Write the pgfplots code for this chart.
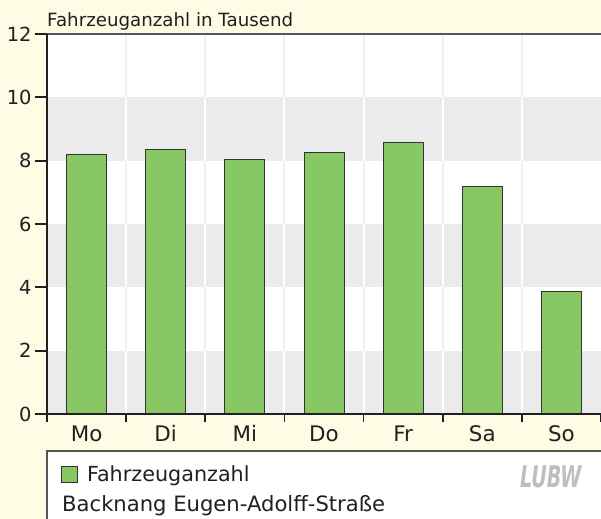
\documentclass[border=0pt]{standalone}
\usepackage{fontspec}
\setmainfont{DejaVu Sans}
\usepackage{pgfplots}
\pgfplotsset{compat=1.18}
\definecolor{cream}{HTML}{FFFCE5}
\definecolor{band}{HTML}{EBEBED}
\definecolor{vline}{HTML}{F0F0F0}
\definecolor{barfill}{HTML}{87C764}
\definecolor{edge}{HTML}{333333}
\definecolor{txt}{HTML}{231F20}
\definecolor{topcol}{HTML}{555555}
\definecolor{logo}{HTML}{BCBEC0}
\begin{document}
\begin{tikzpicture}
\fill[cream] (0,0) rectangle (601bp,519bp);
% legend box
\draw[fill=white, draw=topcol, line width=1.5bp] (47bp,68bp) rectangle (640bp,-20bp);
\node[anchor=base west, font=\fontsize{18.3}{19}\selectfont, text=txt, inner sep=0pt] at (47bp,492bp) {Fahrzeuganzahl in Tausend};
\node[anchor=base west, font=\fontsize{21.2}{22}\selectfont, text=txt, inner sep=0pt] at (62bp,7.5bp) {Backnang Eugen-Adolff-Straße};
\node[anchor=south west, font=\fontsize{30}{30}\selectfont\bfseries\itshape, text=logo, inner sep=0pt, xscale=0.64] at (520bp,31bp) {LUBW};
\begin{axis}[
  axis on top=true,
  axis background/.style={fill=white},
  at={(47bp,105bp)}, anchor=south west,
  scale only axis, width=554bp, height=380bp,
  xmin=-0.5, xmax=6.5, ymin=0, ymax=12,
  axis x line*=bottom, axis y line*=left,
  axis line style={-},
  x axis line style={line width=2bp, draw=txt},
  y axis line style={line width=2.7bp, draw=txt},
  xtick={0,...,6}, xticklabels={Mo,Di,Mi,Do,Fr,Sa,So},
  x tick style={draw=none},
  extra x ticks={-0.5,0.5,1.5,2.5,3.5,4.5,5.5,6.5},
  extra x tick labels={},
  extra x tick style={x tick style={draw=txt, line width=1.6bp}, major tick length=8bp, tick align=outside},
  ytick={0,2,...,12},
  y tick style={draw=txt, line width=2bp},
  tick align=outside, major tick length=12bp,
  /pgf/number format/assume math mode=true,
  y tick label style={font=\fontsize{19.5}{20}\selectfont, text=txt},
  x tick label style={font=\fontsize{21.5}{22}\selectfont, text=txt, yshift=4bp},
  legend style={draw=none, fill=none, inner sep=0pt, outer sep=0pt,
    at={(axis description cs:0.0253,-0.159)}, anchor=west,
    font=\fontsize{20.8}{21}\selectfont, text=txt,
    legend cell align=left,
    /tikz/every odd column/.append style={column sep=7bp}},
  legend image code/.code={\draw[line width=1bp, draw=edge, fill=barfill] (0bp,-8bp) rectangle (16bp,8bp);},
]
\fill[band] (axis cs:-0.5,0) rectangle (axis cs:6.5,2);
\fill[band] (axis cs:-0.5,4) rectangle (axis cs:6.5,6);
\fill[band] (axis cs:-0.5,8) rectangle (axis cs:6.5,10);
\pgfplotsinvokeforeach{0.5,1.5,2.5,3.5,4.5,5.5}{
  \draw[white, line width=2bp] (axis cs:#1,0)--(axis cs:#1,2) (axis cs:#1,4)--(axis cs:#1,6) (axis cs:#1,8)--(axis cs:#1,10);
  \draw[vline, line width=2bp] (axis cs:#1,2)--(axis cs:#1,4) (axis cs:#1,6)--(axis cs:#1,8) (axis cs:#1,10)--(axis cs:#1,12);
}
\addplot[ybar, bar width=40bp, fill=barfill, draw=edge, line width=0.9bp]
  coordinates {(0,8.21) (1,8.34) (2,8.04) (3,8.25) (4,8.56) (5,7.19) (6,3.86)};
\addlegendentry{Fahrzeuganzahl}
\draw[line width=2bp, topcol] (rel axis cs:0,1) -- (rel axis cs:1.01,1);
\end{axis}
\pgfresetboundingbox
\useasboundingbox (0,0) rectangle (601bp,519bp);
\end{tikzpicture}
\end{document}
